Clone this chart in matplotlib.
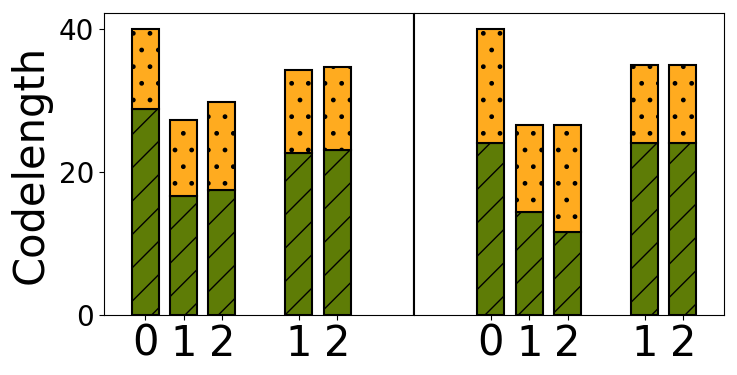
import matplotlib
matplotlib.use("Agg")
import matplotlib.pyplot as plt
import numpy as np

positions = [0, 1, 2, 4, 5]
tick_labels = ["0", "1", "2", "1", "2"]

left_green = [28.8, 16.6, 17.4, 22.6, 23.0]
left_total = [39.9, 27.2, 29.7, 34.3, 34.6]
right_green = [24.1, 14.4, 11.6, 24.0, 24.0]
right_total = [40.0, 26.6, 26.5, 34.9, 34.9]

green = "#5E7C06"
orange = "#FFAB1F"

fig, (ax1, ax2) = plt.subplots(1, 2, sharey=True, figsize=(7.37, 3.75), dpi=100)
fig.subplots_adjust(left=0.1411, right=0.9824, top=0.9653, bottom=0.16, wspace=0)

for ax, g, t in [(ax1, left_green, left_total), (ax2, right_green, right_total)]:
    o = [tt - gg for tt, gg in zip(t, g)]
    ax.bar(positions, g, width=0.7, color=green, edgecolor="black", linewidth=1.5, hatch="/")
    ax.bar(positions, o, bottom=g, width=0.7, color=orange, edgecolor="black", linewidth=1.5, hatch=".")
    ax.set_xticks(positions)
    ax.set_xticklabels(tick_labels, fontsize=30)
    ax.tick_params(axis="x", pad=2)

ax1.set_xlim(-1.07, 7.0)
ax2.set_xlim(-2.0, 6.07)
ax1.set_ylim(0, 42.2)
ax1.set_yticks([0, 20, 40])
ax1.tick_params(axis="y", labelsize=20)
ax2.tick_params(axis="y", left=False, labelleft=False)
for sp in (ax1.spines["right"], ax2.spines["left"]):
    sp.set_linewidth(1.5)
    sp.set_capstyle("butt")
ax1.set_ylabel("Codelength", fontsize=30, labelpad=5)

fig.savefig("out.png", dpi=100)
